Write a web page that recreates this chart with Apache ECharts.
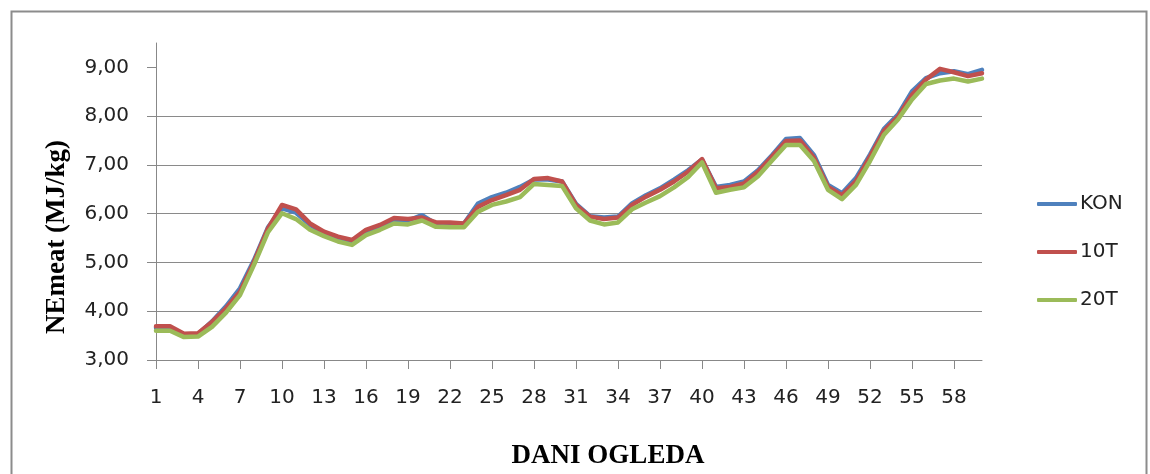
<!DOCTYPE html>
<html>
<head>
<meta charset="utf-8">
<script src="https://cdn.jsdelivr.net/npm/echarts@6/dist/echarts.min.js"></script>
<style>
  html, body { margin: 0; padding: 0; background: #fff; }
  #chart { width: 1150px; height: 474px; }
</style>
</head>
<body>
<div id="chart"></div>
<script>
// days of the trial 1..60
const days = [];
for (let d = 1; d <= 60; d++) days.push(String(d));

const yTicks = [3, 4, 5, 6, 7, 8, 9];

const kon = [3.66, 3.66, 3.51, 3.53, 3.79, 4.10, 4.47, 5.05, 5.72, 6.11,
  6.02, 5.77, 5.60, 5.50, 5.43, 5.64, 5.75, 5.88, 5.86, 5.97,
  5.79, 5.78, 5.80, 6.21, 6.34, 6.43, 6.55, 6.70, 6.70, 6.66,
  6.20, 5.95, 5.92, 5.94, 6.21, 6.38, 6.52, 6.70, 6.89, 7.11,
  6.55, 6.59, 6.66, 6.89, 7.20, 7.53, 7.55, 7.20, 6.59, 6.42,
  6.73, 7.21, 7.74, 8.03, 8.51, 8.78, 8.88, 8.92, 8.86, 8.95];

const t10 = [3.69, 3.69, 3.54, 3.55, 3.78, 4.06, 4.40, 5.01, 5.70, 6.18,
  6.09, 5.80, 5.63, 5.53, 5.46, 5.67, 5.77, 5.91, 5.89, 5.92,
  5.82, 5.82, 5.80, 6.14, 6.28, 6.38, 6.49, 6.71, 6.73, 6.66,
  6.18, 5.94, 5.89, 5.92, 6.18, 6.35, 6.49, 6.66, 6.86, 7.12,
  6.52, 6.55, 6.62, 6.86, 7.17, 7.49, 7.50, 7.15, 6.55, 6.38,
  6.67, 7.17, 7.70, 7.99, 8.44, 8.75, 8.97, 8.90, 8.82, 8.88];

const t20 = [3.60, 3.60, 3.47, 3.48, 3.68, 3.97, 4.33, 4.95, 5.62, 6.01,
  5.89, 5.67, 5.54, 5.43, 5.36, 5.56, 5.67, 5.80, 5.78, 5.86,
  5.73, 5.72, 5.72, 6.04, 6.18, 6.25, 6.34, 6.61, 6.59, 6.57,
  6.11, 5.86, 5.78, 5.82, 6.09, 6.23, 6.36, 6.54, 6.75, 7.05,
  6.43, 6.49, 6.54, 6.77, 7.09, 7.41, 7.41, 7.08, 6.49, 6.30,
  6.59, 7.08, 7.62, 7.93, 8.34, 8.66, 8.73, 8.77, 8.71, 8.77];

const chartDom = document.getElementById("chart");
const myChart = echarts.init(chartDom, null, { renderer: "canvas" });

const labelFont = "DejaVu Sans";
const titleFont = "Liberation Serif";

function lineSeries(name, data, color) {
  return {
    name: name,
    type: "line",
    data: data,
    symbol: "none",
    animation: false,
    lineStyle: { color: color, width: 4.5, cap: "round", join: "round" },
    itemStyle: { color: color },
  };
}

const options = {
  backgroundColor: "#fff",
  animation: false,
  grid: { left: 156, right: 168, top: 43, bottom: 114 },
  legend: {
    orient: "vertical",
    left: 1032,
    top: 189,
    itemWidth: 40,
    itemHeight: 4,
    itemGap: 28,
    icon: "roundRect",
    textStyle: { fontFamily: labelFont, fontSize: 20, color: "#222", lineHeight: 20, padding: [0, 0, 0, -2] },
    data: ["KON", "10T", "20T"],
  },
  xAxis: {
    type: "category",
    data: days,
    boundaryGap: false,
    axisLine: { lineStyle: { color: "#888", width: 1 } },
    axisTick: { show: true, interval: 2, length: 9, lineStyle: { color: "#888" } },
    axisLabel: {
      interval: 2,
      margin: 28,
      fontFamily: labelFont,
      fontSize: 20,
      color: "#222",
    },
    splitLine: { show: false },
  },
  yAxis: {
    type: "value",
    min: 3,
    max: 9.5,
    interval: 1,
    axisLine: { show: true, lineStyle: { color: "#888", width: 1 } },
    axisTick: { show: true, length: 9, customValues: yTicks, lineStyle: { color: "#888" } },
    axisLabel: {
      margin: 27,
      customValues: yTicks,
      fontFamily: labelFont,
      fontSize: 20,
      color: "#222",
      formatter: (v) => (v % 1 === 0 ? v.toFixed(2).replace(".", ",") : ""),
    },
    splitLine: {
      show: true,
      showMinLine: false,
      showMaxLine: false,
      lineStyle: { color: "#8a8a8a", width: 1 },
    },
  },
  graphic: [
    {
      type: "rect",
      shape: { x: 11.5, y: 11.5, width: 1135, height: 500 },
      style: { fill: "none", stroke: "#8c8c8c", lineWidth: 2 },
      silent: true,
    },
    {
      type: "text",
      x: 57,
      y: 237,
      rotation: Math.PI / 2,
      style: {
        text: "NEmeat (MJ/kg)",
        font: "bold 27px " + titleFont,
        fill: "#000",
        textAlign: "center",
        textVerticalAlign: "middle",
      },
    },
    {
      type: "text",
      x: 608,
      y: 456,
      style: {
        text: "DANI OGLEDA",
        font: "bold 27px " + titleFont,
        fill: "#000",
        textAlign: "center",
        textVerticalAlign: "middle",
      },
    },
  ],
  series: [
    lineSeries("KON", kon, "#4F81BD"),
    lineSeries("10T", t10, "#C0504D"),
    lineSeries("20T", t20, "#9BBB59"),
  ],
};

myChart.setOption(options);
</script>
</body>
</html>
